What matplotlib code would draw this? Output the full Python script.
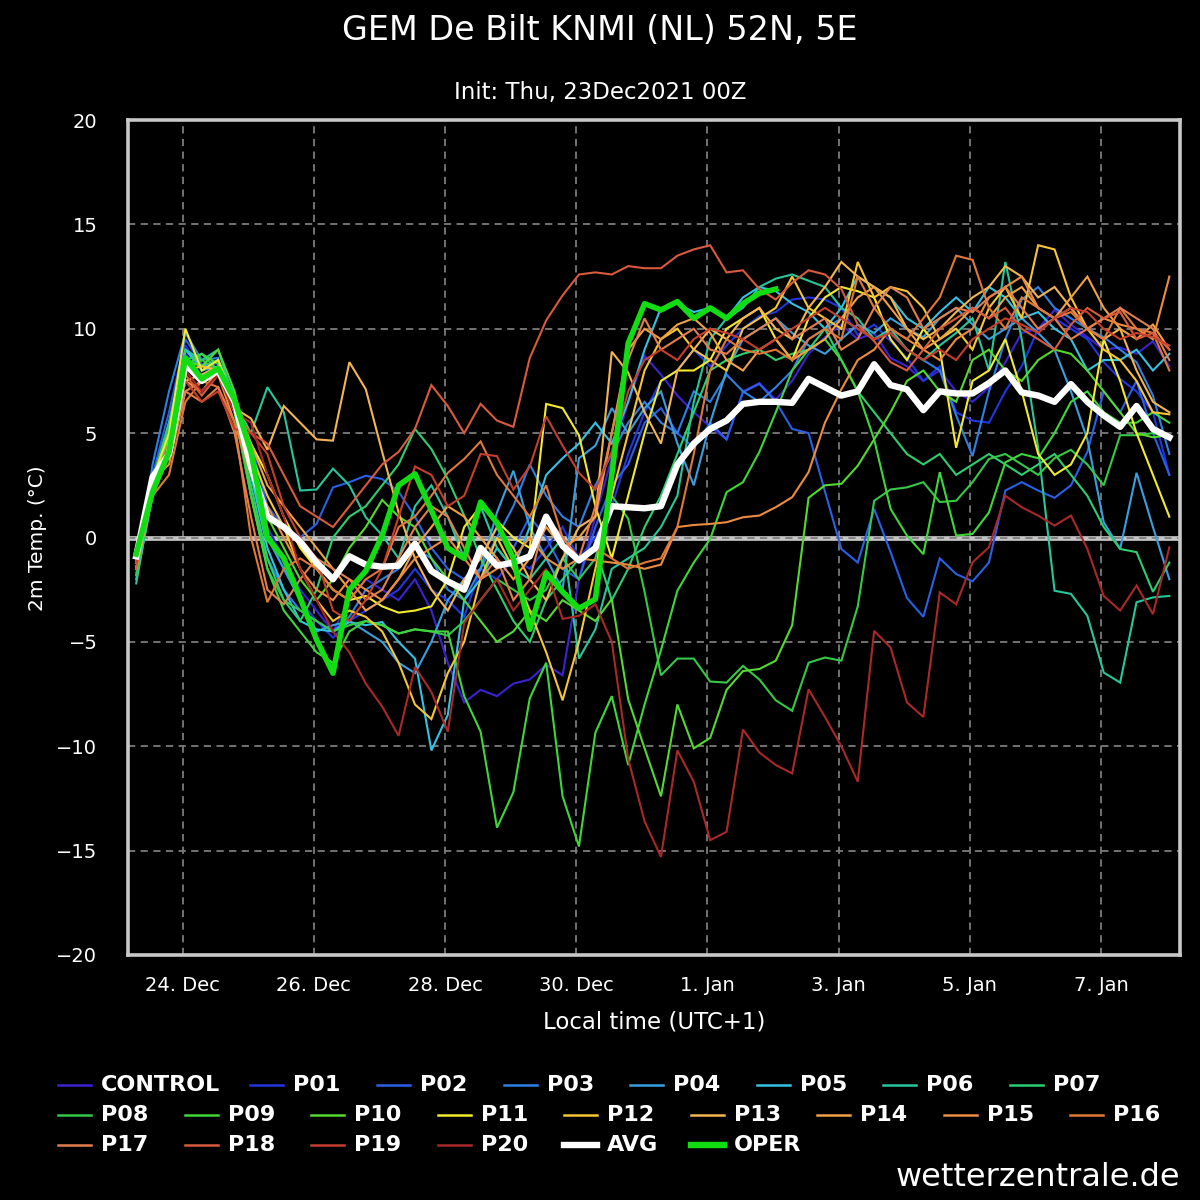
import numpy as np
import matplotlib
matplotlib.use('Agg')
import matplotlib.pyplot as plt
from matplotlib.lines import Line2D

# ---------------- data ----------------
lead_hours = np.arange(6, 385, 6)          # forecast lead time (UTC) from 23Dec2021 00Z
local_hours = lead_hours + 1               # hours since 23 Dec 00:00 local time (UTC+1)

tick_hours = [24, 72, 120, 168, 216, 264, 312, 360]
tick_labels = ['24. Dec', '26. Dec', '28. Dec', '30. Dec', '1. Jan', '3. Jan', '5. Jan', '7. Jan']

control = [-1.2, 2.5, 5.0, 8.8, 7.8, 8.2, 6.2, 3.0,
           0.5, -1.0, -2.5, -3.5, -4.5, -3.0, -2.0, -2.5,
           -3.0, -2.0, -3.5, -6.0, -7.9, -7.3, -7.6, -7.0,
           -6.8, -6.1, -6.6, -2.0, 1.0, 3.8, 6.5, 8.7,
           7.8, 6.8, 6.0, 5.3, 4.7, 7.0, 7.4, 6.6,
           7.5, 8.8, 9.6, 10.2, 9.5, 9.8, 8.6, 8.2,
           7.5, 8.0, 7.0, 6.5, 7.2, 8.4, 9.8, 10.0,
           10.9, 10.2, 9.6, 9.0, 9.1, 8.8, 9.4, 8.2]
p01 = [-1.0, 2.8, 5.5, 9.2, 8.0, 8.4, 6.8, 3.5,
       0.0, -1.5, -3.0, -4.0, -4.8, -4.0, -3.5, -3.0,
       -2.5, -1.5, -2.5, -3.0, -3.8, -1.5, -2.0, -1.0,
       -1.5, -0.5, 0.5, -1.0, 0.0, 1.5, 4.0, 6.0,
       7.5, 8.0, 9.0, 8.2, 9.2, 10.0, 10.6, 10.8,
       11.4, 11.5, 11.4, 11.0, 9.7, 10.2, 9.4, 8.6,
       7.5, 8.2, 6.0, 5.6, 5.5, 7.0, 8.2, 10.0,
       10.5, 10.0, 9.5, 8.4, 7.6, 7.0, 6.0, 3.0]
p02 = [-1.5, 3.0, 6.0, 9.5, 8.3, 8.0, 6.4, 4.5,
       1.5, 0.5, 0.0, 0.65, 2.4, 2.65, 2.96, 2.8,
       2.2, 1.0, -0.5, -1.5, -2.0, -1.0, 0.5, -0.5,
       1.0, 0.0, -1.5, -2.0, 0.5, 2.5, 3.5, 5.5,
       6.2, 5.0, 4.3, 5.5, 4.7, 6.96, 7.36, 6.5,
       5.2, 5.0, 2.2, -0.55, -1.2, 1.37, -0.7, -2.9,
       -3.8, -1.0, -1.75, -2.1, -1.2, 2.25, 2.65, 2.25,
       1.9, 2.5, 4.1, 7.0, 6.0, 7.5, 5.0, 3.0]
p03 = [-1.8, 3.5, 7.0, 9.8, 8.5, 8.6, 6.0, 2.0,
       -1.0, -2.5, -3.5, -4.0, -4.5, -3.8, -2.5, -2.0,
       -1.5, -0.5, -1.0, -2.5, -3.0, -1.5, 0.0, 1.5,
       3.5, 2.0, 1.0, 0.5, 2.5, 4.0, 5.5, 6.5,
       5.5, 5.0, 7.0, 6.5, 7.8, 7.0, 6.5, 7.2,
       8.0, 9.5, 10.0, 10.5, 10.0, 9.5, 9.8, 9.0,
       8.5, 8.0, 5.85, 3.9, 7.0, 9.5, 11.4, 12.0,
       11.0, 10.5, 10.0, 9.6, 9.0, 8.4, 6.8, 4.0]
p04 = [-1.5, 2.5, 5.0, 9.0, 8.0, 8.2, 6.5, 3.0,
       0.0, -1.5, -3.0, -4.5, -4.2, -4.0, -4.5, -5.0,
       -6.0, -6.5, -5.0, -3.0, -2.0, -1.5, 1.2, 3.2,
       0.5, -1.0, -2.5, 3.8, 4.4, 6.2, 5.0, 6.2,
       7.0, 4.5, 2.5, 5.5, 8.0, 9.5, 10.0, 10.5,
       9.8, 9.2, 8.8, 9.5, 10.2, 9.8, 10.5, 10.0,
       9.6, 10.5, 11.0, 10.2, 9.5, 10.0, 10.5, 9.8,
       9.0, 7.0, 4.7, 0.73, -0.55, 3.1, 0.5, -2.0]
p05 = [-2.0, 2.0, 5.0, 9.0, 8.2, 8.5, 6.8, 3.0,
       -0.5, -2.5, -4.0, -4.4, -4.5, -4.05, -4.2, -4.05,
       -5.0, -5.8, -10.2, -8.5, -3.0, -2.0, -0.5, -1.5,
       0.5, 3.0, 3.8, 4.5, 5.5, 4.5, 6.5, 9.0,
       11.0, 11.2, 10.8, 11.0, 10.5, 11.5, 12.0, 11.8,
       11.2, 10.8, 10.0, 11.0, 12.5, 12.0, 11.5, 10.5,
       10.0, 10.8, 11.5, 10.8, 12.0, 11.5, 10.5, 10.8,
       10.0, 9.5, 8.0, 8.5, 8.5, 9.0, 8.0, 8.8]
p06 = [-2.2, 2.2, 5.5, 9.0, 8.5, 9.0, 6.5, 5.0,
       7.2, 6.0, 2.25, 2.3, 3.3, 2.5, 0.97, 0.1,
       -1.0, 1.5, 2.5, 1.0, -1.0, 1.5, -0.5, -1.5,
       -2.0, -1.0, 0.0, -5.8, -4.4, -1.5, -1.0, -0.5,
       0.5, 2.0, 6.5, 9.5, 10.5, 11.0, 12.0, 12.4,
       12.6, 12.3, 12.0, 11.0, 10.5, 9.5, 10.0, 9.0,
       8.5, 9.2, 9.8, 10.5, 8.0, 13.2, 9.5, 4.3,
       -2.55, -2.7, -3.75, -6.47, -6.95, -3.1, -2.87, -2.8]
p07 = [-1.5, 2.8, 5.5, 8.5, 8.8, 8.0, 6.0, 2.5,
       -1.0, -3.0, -4.0, -2.5, 0.0, 1.0, 1.5, 2.5,
       3.5, 5.2, 4.24, 2.8, 1.05, -1.0, -2.5, -4.0,
       -5.0, -3.0, -2.0, -1.0, -0.5, -3.0, -1.5, 0.5,
       2.0, 4.0, 6.0, 8.0, 8.5, 8.8, 9.0, 8.5,
       8.8, 9.0, 10.0, 8.5, 7.0, 6.0, 5.0, 4.0,
       3.5, 4.0, 3.0, 3.5, 4.0, 3.5, 3.0, 3.5,
       4.0, 3.0, 2.0, 0.5, -0.55, -0.7, -2.6, -1.2]
p08 = [-1.8, 2.5, 5.0, 8.0, 8.5, 8.0, 6.0, 2.0,
       -1.5, -3.0, -3.5, -4.0, -4.5, -4.2, -4.0, -4.2,
       -4.6, -4.4, -4.5, -4.7, -4.0, -3.0, -2.0, -2.5,
       -3.0, -2.5, -1.0, -2.0, -1.0, 2.0, 0.9, -2.6,
       -6.6, -5.8, -5.8, -6.9, -6.95, -6.15, -6.8, -7.8,
       -8.3, -6.0, -5.75, -5.9, -3.3, 1.76, 2.3, 2.4,
       2.65, 1.7, 1.76, 2.65, 3.76, 4.0, 3.5, 3.0,
       3.8, 4.2, 3.5, 2.5, 4.9, 4.9, 5.0, 4.8]
p09 = [-1.5, 2.5, 4.5, 8.2, 8.8, 8.3, 6.5, 2.0,
       -1.5, -3.5, -4.5, -5.5, -6.0, -4.5, -4.0, -4.2,
       -4.6, -4.4, -4.5, -4.5, -7.6, -9.3, -13.9, -12.2,
       -7.7, -6.0, -12.4, -14.8, -9.35, -7.6, -10.9, -8.0,
       -5.4, -2.55, -1.2, -0.07, 2.17, 2.65, 4.1, 6.0,
       8.0, 9.0, 9.5, 8.5, 7.0, 4.7, 1.37, 0.09,
       -0.8, 3.13, 0.09, 0.17, 1.2, 3.6, 4.0, 3.8,
       5.0, 6.5, 7.0, 6.0, 5.5, 5.5, 6.0, 5.5]
p10 = [-1.2, 2.2, 4.8, 8.5, 8.2, 9.0, 7.0, 3.5,
       1.0, -0.5, -2.0, -3.0, -2.0, -0.5, 0.5, 1.8,
       1.0, 0.5, -1.0, -2.0, -3.0, -4.0, -5.0, -4.5,
       -3.5, -4.0, -3.0, -3.5, -4.0, -2.95, -7.75, -10.1,
       -12.4, -8.0, -10.1, -9.6, -7.3, -6.4, -6.3, -5.9,
       -4.2, 1.9, 2.5, 2.57, 3.44, 4.7, 6.0, 7.5,
       8.0, 7.0, 6.5, 8.5, 9.0, 8.0, 7.5, 8.5,
       9.0, 8.8, 8.0, 7.0, 6.0, 5.0, 4.8, 4.9]
p11 = [-1.2, 2.8, 5.0, 10.0, 8.0, 8.5, 6.5, 4.5,
       3.0, 1.0, -0.5, -1.5, -2.5, -3.0, -2.8, -3.3,
       -3.6, -3.5, -3.3, -2.0, 0.5, 1.5, 0.8, 0.0,
       -0.5, 6.4, 6.2, 4.9, 1.5, -1.0, 2.0, 5.0,
       7.5, 8.0, 8.0, 8.5, 10.0, 10.5, 11.0, 9.5,
       8.5, 10.5, 11.5, 12.0, 11.8, 11.5, 9.5, 8.5,
       10.0, 9.0, 4.3, 7.5, 8.0, 9.5, 7.0, 4.0,
       3.0, 3.5, 5.0, 9.5, 7.5, 5.0, 3.0, 1.0]
p12 = [-1.5, 2.5, 4.2, 8.0, 8.2, 8.0, 6.5, 4.0,
       2.0, 0.5, -1.5, -3.0, -4.0, -3.5, -3.8, -4.5,
       -6.0, -8.0, -8.7, -6.5, -5.0, -2.0, 0.0, -1.5,
       -3.5, -5.5, -7.8, -5.0, -1.5, 2.0, 5.0, 8.0,
       9.5, 10.0, 9.0, 8.5, 8.0, 10.0, 10.5, 11.0,
       12.5, 11.0, 10.5, 10.0, 13.2, 11.5, 12.0, 11.8,
       11.0, 9.5, 10.0, 9.0, 11.0, 12.0, 10.5, 14.0,
       13.8, 11.5, 10.0, 9.0, 8.5, 7.5, 6.0, 5.9]
p13 = [-1.0, 2.5, 4.5, 7.5, 7.8, 8.2, 6.2, 5.7,
       4.2, 6.3, 5.5, 4.7, 4.64, 8.4, 7.1, 4.1,
       1.2, -1.0, -2.5, -3.5, -2.0, -1.0, 0.5, -0.5,
       -2.0, -3.0, -1.0, 0.5, 1.0, 8.9, 7.9, 6.0,
       4.5, 8.0, 9.0, 10.0, 9.5, 10.5, 11.0, 10.0,
       9.5, 11.0, 12.0, 13.2, 12.5, 12.0, 11.5, 10.0,
       9.5, 10.0, 10.8, 11.5, 12.0, 13.0, 12.5, 11.5,
       12.0, 11.0, 10.0, 9.5, 10.0, 8.0, 6.5, 6.0]
p14 = [-1.5, 2.0, 4.0, 7.5, 7.0, 8.0, 6.0, 4.5,
       2.5, 1.5, 0.5, -0.5, -1.5, -2.5, -3.5, -3.0,
       -2.0, -0.5, 0.5, 1.5, 1.0, 0.0, -1.0, -2.0,
       -1.0, 0.5, -0.5, 0.0, 1.0, 5.0, 9.0, 10.0,
       9.5, 10.2, 10.5, 9.8, 8.5, 8.0, 9.0, 9.5,
       8.5, 9.0, 9.5, 10.5, 11.5, 12.0, 11.0, 10.0,
       9.0, 9.5, 10.2, 11.0, 10.5, 11.5, 12.0, 11.0,
       10.5, 11.5, 12.5, 11.0, 10.0, 9.5, 10.2, 9.0]
p15 = [-1.0, 2.8, 3.5, 7.0, 7.5, 7.8, 5.5, 3.0,
       1.5, 0.0, -1.5, -2.5, -3.0, -2.0, -2.5, -3.0,
       -2.0, -1.0, -0.5, 0.0, -1.0, -2.0, -1.5, -1.0,
       0.0, -1.0, -1.5, -1.0, -1.1, -1.2, -1.3, -1.5,
       -1.3, 0.5, 0.6, 0.65, 0.73, 0.97, 1.05, 1.45,
       1.93, 3.13, 5.5, 7.1, 8.5, 9.0, 10.0, 9.5,
       9.0, 8.5, 9.5, 10.0, 11.5, 12.0, 12.5, 11.0,
       10.5, 11.0, 10.0, 10.5, 10.2, 10.0, 9.5, 12.5]
p16 = [-0.5, 2.0, 3.0, 6.5, 7.5, 7.2, 5.5, 0.0,
       -3.1, -1.5, -1.0, -1.5, -2.5, -3.0, -2.0, -1.5,
       0.5, 1.0, 2.0, 3.1, 3.76, 4.6, 3.0, 2.0,
       1.0, 2.5, 0.0, -1.0, -0.5, -1.0, -1.5, -1.2,
       -1.0, 0.5, 4.0, 8.0, 9.5, 9.0, 8.8, 9.0,
       8.5, 9.5, 10.0, 9.5, 12.5, 11.0, 10.0, 9.5,
       10.5, 11.5, 13.5, 13.3, 11.0, 10.0, 11.5, 11.0,
       10.5, 10.8, 10.0, 9.5, 11.0, 10.0, 9.8, 8.0]
p17 = [-0.8, 2.8, 4.0, 7.0, 6.5, 7.2, 5.0, 1.0,
       -2.5, -3.2, -2.0, -1.0, -1.5, -2.0, -3.0, -2.5,
       -1.0, 0.5, 1.5, 1.0, -0.5, -2.0, -1.0, -3.0,
       -2.0, 1.0, 0.0, -1.0, 1.5, 5.0, 8.5, 10.5,
       9.0, 9.5, 10.0, 9.0, 8.8, 9.5, 10.0, 10.5,
       9.5, 10.0, 10.5, 9.0, 9.5, 11.0, 12.0, 11.5,
       10.0, 10.5, 11.0, 10.8, 11.5, 12.0, 11.0, 10.0,
       10.5, 9.5, 10.0, 10.5, 11.0, 10.5, 10.0, 8.5]
p18 = [-1.5, 2.5, 4.5, 7.8, 6.8, 7.8, 6.0, 5.0,
       4.5, 3.0, 1.5, 1.0, 0.5, 1.5, 2.5, 3.5,
       4.1, 5.2, 7.3, 6.3, 5.0, 6.4, 5.6, 5.3,
       8.6, 10.4, 11.6, 12.6, 12.7, 12.6, 13.0, 12.9,
       12.9, 13.5, 13.8, 14.0, 12.7, 12.8, 11.9, 11.4,
       12.2, 12.8, 12.6, 11.9, 10.2, 9.4, 8.4, 8.0,
       9.0, 10.0, 10.5, 11.0, 10.5, 11.0, 10.0, 9.5,
       9.0, 10.2, 11.0, 10.5, 10.8, 9.5, 9.8, 9.0]
p19 = [-1.2, 2.2, 4.2, 7.5, 6.5, 7.0, 5.2, 5.0,
       4.0, 1.5, 0.0, -1.0, -3.5, -4.0, -3.0, -1.5,
       1.0, 3.4, 3.0, 1.5, 2.0, 4.0, 3.9, 2.3,
       3.4, 5.8, 4.4, 3.1, 2.3, 4.1, 7.0, 8.5,
       9.0, 8.5, 9.5, 10.0, 9.8, 9.5, 9.0, 9.5,
       10.0, 10.5, 11.0, 10.5, 10.0, 9.5, 9.8, 9.0,
       8.5, 9.0, 8.5, 9.5, 10.0, 10.5, 10.2, 9.8,
       10.5, 11.0, 10.8, 10.0, 9.5, 9.8, 9.6, 9.2]
p20 = [-1.0, 2.0, 4.0, 8.0, 7.0, 7.8, 6.0, 5.5,
       3.0, 1.0, -1.5, -3.0, -4.5, -5.5, -7.0, -8.1,
       -9.5, -6.2, -7.4, -9.3, -4.1, -3.0, -2.0, -3.5,
       -2.5, -1.5, -3.9, -3.75, -3.2, -5.0, -10.6, -13.6,
       -15.3, -10.2, -11.7, -14.5, -14.1, -9.2, -10.3, -10.9,
       -11.3, -7.27, -8.6, -10.0, -11.7, -4.47, -5.27, -7.9,
       -8.6, -2.63, -3.2, -1.19, -0.47, 2.0, 1.45, 1.05,
       0.57, 1.05, -0.55, -2.8, -3.5, -2.3, -3.67, -0.47]
avg = [-0.9, 2.9, 4.0, 8.3, 7.5, 8.0, 6.5, 3.4,
       1.0, 0.5, -0.2, -1.2, -2.0, -0.9, -1.3, -1.4,
       -1.35, -0.3, -1.6, -2.1, -2.5, -0.5, -1.35, -1.2,
       -0.9, 1.0, -0.4, -1.1, -0.5, 1.5, 1.45, 1.4,
       1.5, 3.5, 4.5, 5.2, 5.6, 6.4, 6.5, 6.5,
       6.45, 7.6, 7.2, 6.8, 7.0, 8.3, 7.3, 7.1,
       6.1, 7.0, 6.9, 6.9, 7.4, 8.0, 6.95, 6.8,
       6.5, 7.35, 6.5, 5.85, 5.3, 6.3, 5.2, 4.8]
oper = [-0.8, 2.2, 4.1, 8.6, 7.6, 8.1, 6.6, 4.1,
        0.0, -1.0, -2.9, -4.9, -6.5, -2.5, -1.6, 0.1,
        2.5, 3.05, 1.3, -0.5, -1.0, 1.7, 0.7, -1.0,
        -4.4, -1.7, -2.6, -3.4, -2.95, 3.0, 9.3, 11.2,
        10.9, 11.3, 10.5, 11.0, 10.5, 11.2, 11.7, 11.9]

member_names = ['CONTROL'] + ['P%02d' % i for i in range(1, 21)]
member_values = [control, p01, p02, p03, p04, p05, p06, p07, p08, p09, p10,
                 p11, p12, p13, p14, p15, p16, p17, p18, p19, p20]
member_colors = ['#3b22d2', '#2135e2', '#2a5fe6', '#2f80e4', '#3a9fdf', '#33c2e2',
                 '#27c79c', '#2ccf70', '#35c947', '#3fd63b', '#55d82f',
                 '#f3ea2e', '#f6c634', '#f3b552', '#f1a044', '#ec8c42', '#e0783a',
                 '#e37f4e', '#d95a3c', '#c63e2e', '#aa2828']

# ---------------- figure ----------------
fig = plt.figure(figsize=(12, 12), dpi=100, facecolor='black')
ax = fig.add_axes([128 / 1200, 1 - 955 / 1200, 1052 / 1200, 835 / 1200])
ax.set_facecolor('black')

ax.set_xlim(4, 388.9)
ax.set_ylim(-20, 20)
ax.set_xticks(tick_hours)
ax.set_xticklabels(tick_labels)
ax.set_yticks(np.arange(-20, 21, 5))
ax.grid(True, color='#7c7c7c', linestyle=(0, (4, 3)), linewidth=1.3, zorder=1)
ax.set_axisbelow(True)
ax.axhline(0, color='#c4c4c4', linewidth=3.4, zorder=1.5)
ax.axhline(0, color='#7c7c7c', linewidth=1.3, linestyle=(0, (4, 3)), zorder=1.6)

for spine in ax.spines.values():
    spine.set_color('#c8c8c8')
    spine.set_linewidth(2.6)
    spine.set_zorder(10)

ax.tick_params(axis='both', colors='white', length=0, labelsize=14)
ax.tick_params(axis='y', pad=22)
ax.tick_params(axis='x', pad=15)

for vals, col in zip(member_values, member_colors):
    ax.plot(local_hours, vals, color=col, linewidth=1.5, zorder=3, solid_joinstyle='miter')
ax.plot(local_hours, avg, color='white', linewidth=4.6, zorder=5)
ax.plot(local_hours[:len(oper)], oper, color='#12dc12', linewidth=4.0, zorder=6)

# titles and labels
fig.text(0.5, 1 - 30 / 1200, 'GEM De Bilt KNMI (NL) 52N, 5E', color='white',
         fontsize=24, ha='center', va='center')
fig.text(0.5, 1 - 92 / 1200, 'Init: Thu, 23Dec2021 00Z', color='white',
         fontsize=16.5, ha='center', va='center')
fig.text(38 / 1200, 1 - 538 / 1200, '2m Temp. (°C)', color='white', fontsize=14.5,
         rotation=90, ha='center', va='center')
fig.text(654 / 1200, 1 - 1022 / 1200, 'Local time (UTC+1)', color='white', fontsize=16.5,
         ha='center', va='center')
fig.text(1180 / 1200, 1 - 1177 / 1200, 'wetterzentrale.de', color='white', fontsize=23,
         ha='right', va='center')

# legend (drawn manually to follow the reference's flowing layout)
legend_rows_y = [1085, 1115, 1145]
legend_layout = [
    [('CONTROL', 58), ('P01', 250), ('P02', 377), ('P03', 504), ('P04', 630),
     ('P05', 757), ('P06', 883), ('P07', 1010)],
    [('P08', 58), ('P09', 185), ('P10', 311), ('P11', 438), ('P12', 564),
     ('P13', 691), ('P14', 817), ('P15', 944), ('P16', 1070)],
    [('P17', 58), ('P18', 185), ('P19', 311), ('P20', 438), ('AVG', 564), ('OPER', 691)],
]
style = {n: (c, 1.8) for n, c in zip(member_names, member_colors)}
style['AVG'] = ('white', 4.6)
style['OPER'] = ('#12dc12', 4.6)
for row, ypix in zip(legend_layout, legend_rows_y):
    yf = 1 - ypix / 1200
    for name, xpix in row:
        col, lw = style[name]
        fig.add_artist(Line2D([xpix / 1200, (xpix + 33) / 1200], [yf, yf],
                              color=col, linewidth=lw, transform=fig.transFigure))
        fig.text((xpix + 43) / 1200, yf, name, color='white', fontsize=16,
                 fontweight='bold', ha='left', va='center')

fig.savefig('out.png', dpi=100, facecolor='black')
